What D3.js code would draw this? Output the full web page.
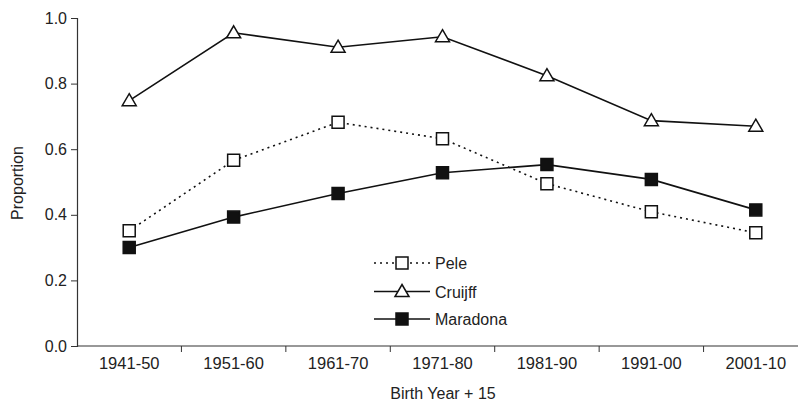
<!DOCTYPE html>
<html>
<head>
<meta charset="utf-8">
<script src="https://cdn.jsdelivr.net/npm/d3@7"></script>
<style>
  body { margin: 0; background: #fff; }
  text { font-family: "Liberation Sans", Arial, sans-serif; fill: #222; }
</style>
</head>
<body>
<div id="chart"></div>
<script>
// data
var periods = ["1941-50", "1951-60", "1961-70", "1971-80", "1981-90", "1991-00", "2001-10"];
var pele     = [0.351, 0.566, 0.682, 0.632, 0.495, 0.409, 0.345];
var cruijff  = [0.748, 0.955, 0.911, 0.943, 0.824, 0.687, 0.670];
var maradona = [0.300, 0.393, 0.465, 0.528, 0.553, 0.508, 0.415];
var yTicks = [0, 0.2, 0.4, 0.6, 0.8, 1.0];

var svgW = 798, svgH = 407;
var plotLeft = 77, plotTop = 18, plotBottom = 346, plotRight = 808;

var svg = d3.select("#chart").append("svg")
    .attr("width", svgW)
    .attr("height", svgH);

var x = d3.scaleBand().domain(periods).range([plotLeft, plotRight]).padding(0);
var y = d3.scaleLinear().domain([0, 1]).range([plotBottom, plotTop]);
var cx = function(d, i) { return x(periods[i]) + x.bandwidth() / 2; };

// y axis
var yAxis = svg.append("g")
    .attr("transform", "translate(" + plotLeft + ",0)")
    .call(d3.axisLeft(y).tickValues(yTicks).tickFormat(d3.format(".1f")).tickSize(6).tickPadding(4));
yAxis.select(".domain").attr("stroke", "#333").attr("stroke-width", 1.2);
yAxis.selectAll(".tick line").attr("stroke", "#333");
yAxis.selectAll(".tick text").attr("font-size", 16).style("font-family", "Liberation Sans, Arial, sans-serif").attr("fill", "#222");

// x axis: labels centred, ticks on band edges
var xAxis = svg.append("g")
    .attr("transform", "translate(0," + plotBottom + ")")
    .call(d3.axisBottom(x).tickSize(0).tickPadding(11));
xAxis.select(".domain").attr("stroke", "#333").attr("stroke-width", 1.2)
    .attr("d", "M" + plotLeft + ",0H" + plotRight);
xAxis.selectAll(".tick text").attr("font-size", 16.5).style("font-family", "Liberation Sans, Arial, sans-serif").attr("fill", "#222");
xAxis.selectAll("line.edge")
    .data(periods.slice(0, periods.length - 1))
    .enter().append("line")
    .attr("class", "edge")
    .attr("x1", function(d) { return x(d) + x.bandwidth(); })
    .attr("x2", function(d) { return x(d) + x.bandwidth(); })
    .attr("y1", 0).attr("y2", 6)
    .attr("stroke", "#333");

// axis titles
svg.append("text")
    .attr("x", 443).attr("y", 399)
    .attr("text-anchor", "middle")
    .attr("font-size", 16)
    .text("Birth Year + 15");
svg.append("text")
    .attr("transform", "translate(23,183) rotate(-90)")
    .attr("text-anchor", "middle")
    .attr("font-size", 16)
    .text("Proportion");

var line = d3.line()
    .x(function(d, i) { return cx(d, i); })
    .y(function(d) { return y(d); });

var series = [
    { name: "Pele", values: pele, dash: "2,4", marker: "square", fill: "#fff" },
    { name: "Cruijff", values: cruijff, dash: null, marker: "triangle", fill: "#fff" },
    { name: "Maradona", values: maradona, dash: null, marker: "square", fill: "#111" }
];

function markerPath(type) {
    if (type === "triangle") return "M0,-7L7,5L-7,5Z";
    return "M-6,-6H6V6H-6Z";
}

series.forEach(function(s) {
    svg.append("path")
        .datum(s.values)
        .attr("d", line)
        .attr("fill", "none")
        .attr("stroke", "#111")
        .attr("stroke-width", 1.6)
        .attr("stroke-dasharray", s.dash);
});

series.forEach(function(s) {
    svg.append("g").selectAll("path")
        .data(s.values)
        .enter().append("path")
        .attr("transform", function(d, i) { return "translate(" + cx(d, i) + "," + y(d) + ")"; })
        .attr("d", markerPath(s.marker))
        .attr("fill", s.fill)
        .attr("stroke", "#111")
        .attr("stroke-width", 1.5);
});

// legend
var legend = svg.append("g").attr("transform", "translate(374,263)");
var rows = legend.selectAll("g")
    .data(series)
    .enter().append("g")
    .attr("transform", function(d, i) { return "translate(0," + [0, 28.5, 56][i] + ")"; });
rows.append("line")
    .attr("x1", 0).attr("x2", 56)
    .attr("stroke", "#111")
    .attr("stroke-width", 1.6)
    .attr("stroke-dasharray", function(d) { return d.dash; });
rows.append("path")
    .attr("transform", "translate(28,0)")
    .attr("d", function(d) { return markerPath(d.marker); })
    .attr("fill", function(d) { return d.fill; })
    .attr("stroke", "#111")
    .attr("stroke-width", 1.5);
rows.append("text")
    .attr("x", 61).attr("y", 6)
    .attr("font-size", 16)
    .text(function(d) { return d.name; });
</script>
</body>
</html>
